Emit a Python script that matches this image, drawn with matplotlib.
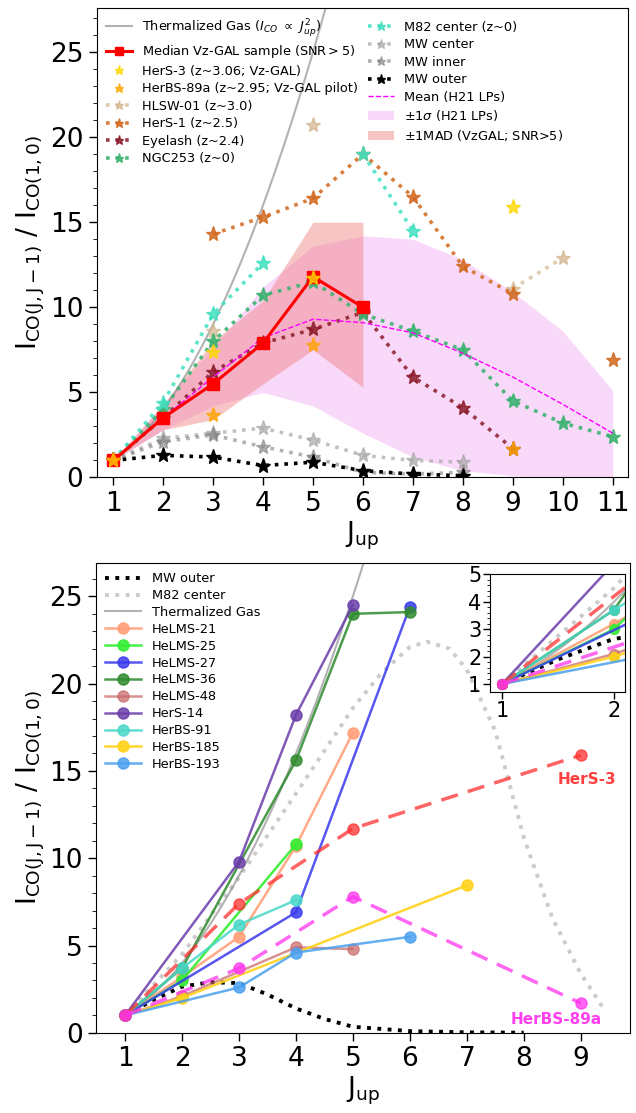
import matplotlib
matplotlib.use('Agg')
import matplotlib.pyplot as plt
import numpy as np

nan = np.nan

# ---------------- top panel data ----------------
J11 = np.arange(1, 12)
J_therm = np.linspace(1, 6, 60)

J_med = [1, 2, 3, 4, 5, 6]
med_vzgal = [1, 3.5, 5.5, 7.9, 11.8, 10.0]
mad_lo = [1, 2.8, 3.4, 5.5, 7.5, 5.3]
mad_hi = [1, 4.3, 8.0, 10.4, 15.0, 15.0]

h21_mean = [1, 3.5, 5.9, 8.2, 9.3, 9.1, 8.5, 7.3, 5.9, 4.3, 2.6]
h21_lo = [1, 2.8, 4.2, 5.0, 4.2, 2.6, 1.2, 0.4, 0.1, 0.0, 0.0]
h21_hi = [1, 4.3, 7.6, 11.2, 13.6, 14.2, 14.0, 12.8, 10.9, 8.6, 5.1]

J_hers3 = [1, 3, 5, 9]
hers3 = [1, 7.4, 11.7, 15.9]
J_herbs89 = [1, 3, 5, 9]
herbs89 = [1, 3.7, 7.8, 1.7]

J_hlsw = [1, 2, 3, 4, 5, 6, 7, 8, 9, 10]
hlsw01 = [nan, nan, 8.6, nan, 20.7, nan, nan, nan, 11.1, 12.9]
J_hers1 = [3, 4, 5, 6, 7, 8, 9, 10, 11]
hers1 = [14.3, 15.3, 16.4, 19.0, 16.5, 12.4, 10.8, nan, 6.9]
J_eye = [1, 2, 3, 4, 5, 6, 7, 8, 9]
eyelash = [1, 3.5, 6.2, 7.9, 8.7, 9.7, 5.9, 4.1, 1.7]
ngc253 = [1, 4.0, 8.0, 10.7, 11.5, 9.6, 8.6, 7.5, 4.5, 3.2, 2.4]
J_m82 = [1, 2, 3, 4, 5, 6, 7]
m82_top = [1, 4.4, 9.6, 12.6, nan, 19.0, 14.5]
J_mw = [1, 2, 3, 4, 5, 6, 7, 8]
mw_center = [1, 2.3, 2.6, 2.9, 2.2, 1.3, 1.0, 0.9]
mw_inner = [1, 2.1, 2.5, 1.8, 1.2, 0.3, 0.2, 0.3]
mw_outer = [1, 1.3, 1.2, 0.7, 0.9, 0.4, 0.2, 0.1]

# ---------------- bottom panel data ----------------
J_mwo_b = [1, 1.5, 2, 2.5, 3, 3.5, 4, 4.5, 5, 6, 7, 8]
mwo_b = [1, 1.9, 2.65, 2.9, 2.85, 2.2, 1.4, 0.8, 0.35, 0.1, 0.03, 0.01]
J_m82_b = [1, 2, 3, 4, 5, 5.5, 6, 6.3, 6.7, 7, 7.5, 8, 8.5, 9, 9.4]
m82_b = [1, 4.5, 8.9, 13.7, 18.6, 20.6, 22.1, 22.4, 22.0, 20.8, 17.3, 11.2, 6.6, 3.4, 1.4]

names_b = ['HeLMS-21', 'HeLMS-25', 'HeLMS-27', 'HeLMS-36', 'HeLMS-48',
           'HerS-14', 'HerBS-91', 'HerBS-185', 'HerBS-193']
J_b = [[1, 2, 3, 4, 5], [1, 2, 4], [1, 4, 6], [1, 2, 4, 5, 6], [1, 2, 4, 5],
       [1, 3, 4, 5], [1, 2, 3, 4], [1, 2, 7], [1, 3, 4, 6]]
r_b = [[1, 3.2, 5.5, 10.7, 17.2], [1, 3.0, 10.8], [1, 6.9, 24.4],
       [1, 3.7, 15.6, 24.0, 24.1], [1, 2.1, 4.9, 4.8], [1, 9.8, 18.2, 24.5],
       [1, 3.7, 6.2, 7.6], [1, 2.0, 8.45], [1, 2.6, 4.6, 5.5]]
colors_b = ['#FFA07A', '#33EE33', '#3A3AEE', '#2E8B2E', '#C86464',
            '#6A3DAA', '#48D8C8', '#FFD21A', '#4AA0F0']
alpha_b = [0.9, 0.9, 0.85, 0.85, 0.7, 0.85, 0.85, 0.9, 0.85]

fig = plt.figure(figsize=(6.36, 11.13), dpi=100)
fs = 19

# ======================= TOP =======================
ax = fig.add_axes([0.152, 0.571, 0.835, 0.422])
ax.plot(J_therm, J_therm**2, color='grey', lw=1.5, alpha=0.6,
        label=r'Thermalized Gas ($I_{CO}\ \propto\ J_{up}^2$)')
ax.plot(J_med, med_vzgal, color='red', marker='s', ms=9, lw=2.2,
        label='Median Vz-GAL sample (SNR$>$5)', zorder=8)
ax.plot(J_hers3, hers3, ls='none', marker='*', ms=11, color='gold', alpha=0.8,
        label='HerS-3 (z~3.06; Vz-GAL)', zorder=9)
ax.plot(J_herbs89, herbs89, ls='none', marker='*', ms=11, color='orange', alpha=0.8,
        label='HerBS-89a (z~2.95; Vz-GAL pilot)', zorder=9)
ax.plot(J_hlsw, hlsw01, ls=':', lw=2.6, marker='*', ms=11, color='tan', alpha=0.7,
        label='HLSW-01 (z~3.0)')
ax.plot(J_hers1, hers1, ls=':', lw=2.6, marker='*', ms=11, color='#D2691E', alpha=0.85,
        label='HerS-1 (z~2.5)')
ax.plot(J_eye, eyelash, ls=':', lw=2.6, marker='*', ms=11, color='#8B1A2A', alpha=0.85,
        label='Eyelash (z~2.4)')
ax.plot(J11, ngc253, ls=':', lw=2.6, marker='*', ms=11, color='#3CB371', alpha=0.9,
        label='NGC253 (z~0)')
ax.plot(J_m82, m82_top, ls=':', lw=2.6, marker='*', ms=11, color='#40E0C0', alpha=0.85,
        label='M82 center (z~0)')
ax.plot(J_mw, mw_center, ls=':', lw=2.6, marker='*', ms=11, color='darkgrey', alpha=0.7,
        label='MW center')
ax.plot(J_mw, mw_inner, ls=':', lw=2.6, marker='*', ms=11, color='grey', alpha=0.6,
        label='MW inner')
ax.plot(J_mw, mw_outer, ls=':', lw=2.6, marker='*', ms=11, color='black',
        label='MW outer')
ax.plot(J11, h21_mean, ls='--', lw=1, color='magenta', label='Mean (H21 LPs)')
ax.fill_between(J11, h21_lo, h21_hi, color='violet', alpha=0.3, lw=0,
                label=r'$\pm$1$\sigma$ (H21 LPs)')
ax.fill_between(J_med, mad_lo, mad_hi, color='lightcoral', alpha=0.45, lw=0,
                label=r'$\pm$1MAD (VzGAL; SNR>5)')

ax.set_xlim(0.67, 11.3)
ax.set_ylim(0, 27.6)
ax.set_xticks(J11)
ax.set_yticks([0, 5, 10, 15, 20, 25])
ax.set_yticks(np.arange(0, 28, 1), minor=True)
ax.tick_params(labelsize=fs, length=6, width=1)
ax.tick_params(which='minor', length=3)
ax.set_xlabel(r'$\mathrm{J_{up}}$', fontsize=fs, labelpad=2)
ax.set_ylabel(r'$\mathrm{I_{CO(J,J-1)}\ /\ I_{CO(1,0)}}$', fontsize=fs, labelpad=2)
ax.legend(loc='upper left', ncol=2, frameon=False, fontsize=9.3,
          handlelength=2.0, columnspacing=0.8, labelspacing=0.35,
          borderaxespad=0.3, markerscale=0.6)

# ======================= BOTTOM =======================
bx = fig.add_axes([0.151, 0.072, 0.839, 0.422])


def draw_bottom(a, ms=8):
    a.plot(J_mwo_b, mwo_b, ls=':', lw=2.8, color='black', label='MW outer')
    a.plot(J_m82_b, m82_b, ls=':', lw=2.8, color='darkgrey', alpha=0.6,
           label='M82 center')
    a.plot(J_therm, J_therm**2, color='grey', lw=1.5, alpha=0.6,
           label='Thermalized Gas')
    for n, jj, rr, c, al in zip(names_b, J_b, r_b, colors_b, alpha_b):
        a.plot(jj, rr, color=c, marker='o', ms=ms, lw=1.8, alpha=al, label=n)
    a.plot(J_hers3, hers3, ls='--', lw=2.5, dashes=(5, 3), color='#FF3030',
           marker='o', ms=ms, alpha=0.75)
    a.plot(J_herbs89, herbs89, ls='--', lw=2.5, dashes=(5, 3), color='#FF33EE',
           marker='o', ms=ms, alpha=0.75)


draw_bottom(bx)
bx.text(9.63, 14.5, 'HerS-3', color='#FF4040', fontsize=11, fontweight='bold',
        ha='right', va='center')
bx.text(9.37, 0.75, 'HerBS-89a', color='#FF40EE', fontsize=11, fontweight='bold',
        ha='right', va='center')
bx.set_xlim(0.49, 9.86)
bx.set_ylim(0, 26.9)
bx.set_xticks(range(1, 10))
bx.set_yticks([0, 5, 10, 15, 20, 25])
bx.set_yticks(np.arange(0, 27, 1), minor=True)
bx.tick_params(labelsize=fs, length=6, width=1)
bx.tick_params(which='minor', length=3)
bx.set_xlabel(r'$\mathrm{J_{up}}$', fontsize=fs, labelpad=2)
bx.set_ylabel(r'$\mathrm{I_{CO(J,J-1)}\ /\ I_{CO(1,0)}}$', fontsize=fs, labelpad=2)
bx.legend(loc='upper left', frameon=False, fontsize=9.3, handlelength=2.8,
          labelspacing=0.3, borderaxespad=0.3)

# inset
ix = fig.add_axes([0.770, 0.378, 0.213, 0.106])
draw_bottom(ix, ms=7)
ix.set_xlim(0.89, 2.1)
ix.set_ylim(0.7, 5)
ix.set_xticks([1, 2])
ix.set_yticks([1, 2, 3, 4, 5])
ix.set_yticks(np.arange(1, 5.01, 0.2), minor=True)
ix.tick_params(labelsize=15, length=5, width=1, pad=1)
ix.tick_params(which='minor', length=2)

fig.savefig('out.png', dpi=100)
